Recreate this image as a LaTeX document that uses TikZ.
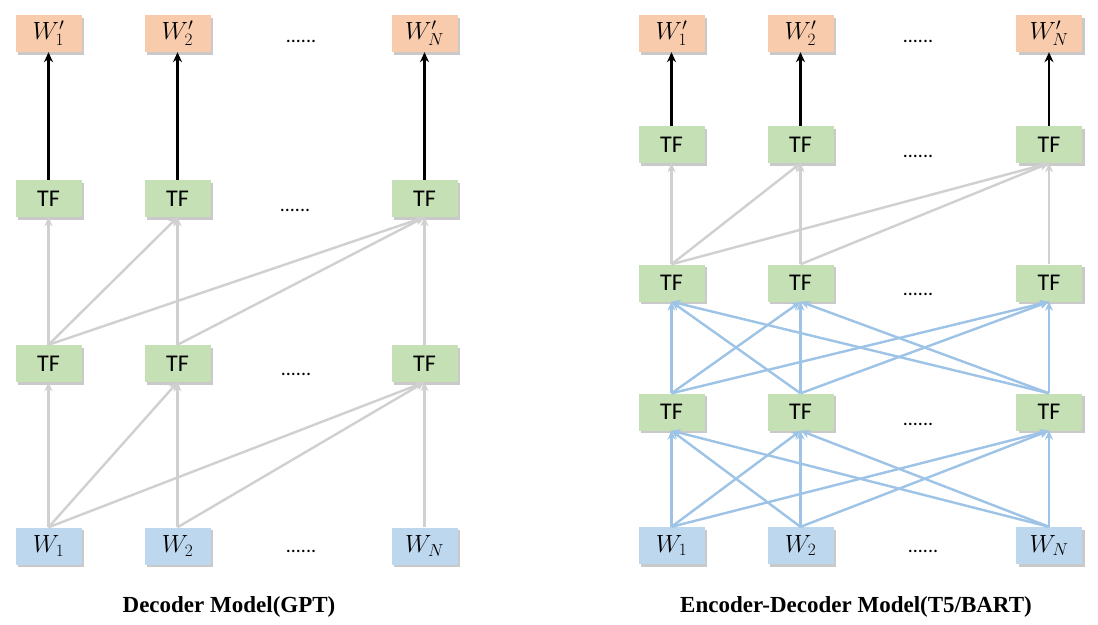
\documentclass[tikz,border=0pt]{standalone}
\usepackage{fontspec}
\setmainfont{Liberation Serif}
\newfontfamily\calib{Carlito}
\usetikzlibrary{shadows,arrows.meta}
\definecolor{outc}{HTML}{F8CBAD}
\definecolor{tfc}{HTML}{C5E0B4}
\definecolor{inc}{HTML}{BDD7EE}
\definecolor{grayln}{HTML}{D0D0D0}
\definecolor{blueln}{HTML}{9DC3E6}
\begin{document}
\begin{tikzpicture}[x=1pt,y=-1pt,
 bx/.style={minimum width=66pt, minimum height=37pt, inner sep=0pt,
   drop shadow={shadow xshift=2.5pt,shadow yshift=-2.5pt,opacity=0.35,fill=black!60}},
 ob/.style={bx,fill=outc,font=\fontsize{24}{28}\selectfont},
 tb/.style={bx,fill=tfc,font=\calib\fontsize{24}{28}\selectfont},
 ib/.style={bx,fill=inc,font=\fontsize{24}{28}\selectfont},
 dotlbl/.style={font=\calib\fontsize{20}{24}\selectfont, anchor=base, inner sep=0pt},
 blk/.style={draw=black, line width=2.8pt, -{Stealth[length=10pt,width=9pt]}},
 gry/.style={draw=grayln, line width=2.4pt, -{Stealth[length=9pt,width=8pt]}},
 blu/.style={draw=blueln, line width=2.4pt, -{Stealth[length=9pt,width=8pt]}},
 ttl/.style={font=\bfseries\fontsize{23}{28}\selectfont, anchor=base, inner sep=0pt}
]
\fill[white] (0,0) rectangle (1098,624);
\useasboundingbox (0,0) rectangle (1098,624);

% ---------- left: decoder ----------
\foreach \c/\x in {1/48.5,2/177.5,N/424.5} {
  \node[ob] (LO\c) at (\x,33.5) {$W'_{\c}$};
  \node[tb] (LTa\c) at (\x,198.5) {TF};
  \node[tb] (LTb\c) at (\x,363.5) {TF};
  \node[ib] (LW\c) at (\x,546) {$W_{\c}$};
}
\node[dotlbl] (Ld1) at (301,42) {......};
\node[dotlbl] (Ld2) at (295,211) {......};
\node[dotlbl] (Ld3) at (296,375) {......};
\node[dotlbl] (Ld4) at (301,552) {......};

\foreach \c in {1,2,N} \draw[blk] (LTa\c.north) -- (LO\c.south);
\foreach \a/\b in {1/1,1/2,1/N,2/2,2/N,N/N} {
  \draw[gry] (LTb\a.north) -- (LTa\b.south);
  \draw[gry] (LW\a.north) -- (LTb\b.south);
}
\node[ttl] (Lttl) at (229,612) {Decoder Model(GPT)};

% ---------- right: encoder-decoder ----------
\foreach \c/\x in {1/671.5,2/800.5,N/1049} {
  \node[ob] (RO\c) at (\x,33.5) {$W'_{\c}$};
  \node[tb] (RTa\c) at (\x,144.5) {TF};
  \node[tb] (RTb\c) at (\x,283) {TF};
  \node[tb] (RTc\c) at (\x,412) {TF};
  \node[ib] (RW\c) at (\x,545.5) {$W_{\c}$};
}
\node[dotlbl] (Rd1) at (918,42) {......};
\node[dotlbl] (Rd2) at (918,157) {......};
\node[dotlbl] (Rd3) at (918,295) {......};
\node[dotlbl] (Rd4) at (918,425) {......};
\node[dotlbl] (Rd5) at (923,552) {......};

\foreach \c in {1,2,N} \draw[blk] (RTa\c.north) -- (RO\c.south);
\foreach \a/\b in {1/1,1/2,1/N,2/2,2/N,N/N}
  \draw[gry] (RTb\a.north) -- (RTa\b.south);
\foreach \a in {1,2,N} \foreach \b in {1,2,N} {
  \draw[blu] (RTc\a.north) -- (RTb\b.south);
  \draw[blu] (RW\a.north) -- (RTc\b.south);
}
\node[ttl] (Rttl) at (856,612) {Encoder-Decoder Model(T5/BART)};
\end{tikzpicture}
\end{document}
